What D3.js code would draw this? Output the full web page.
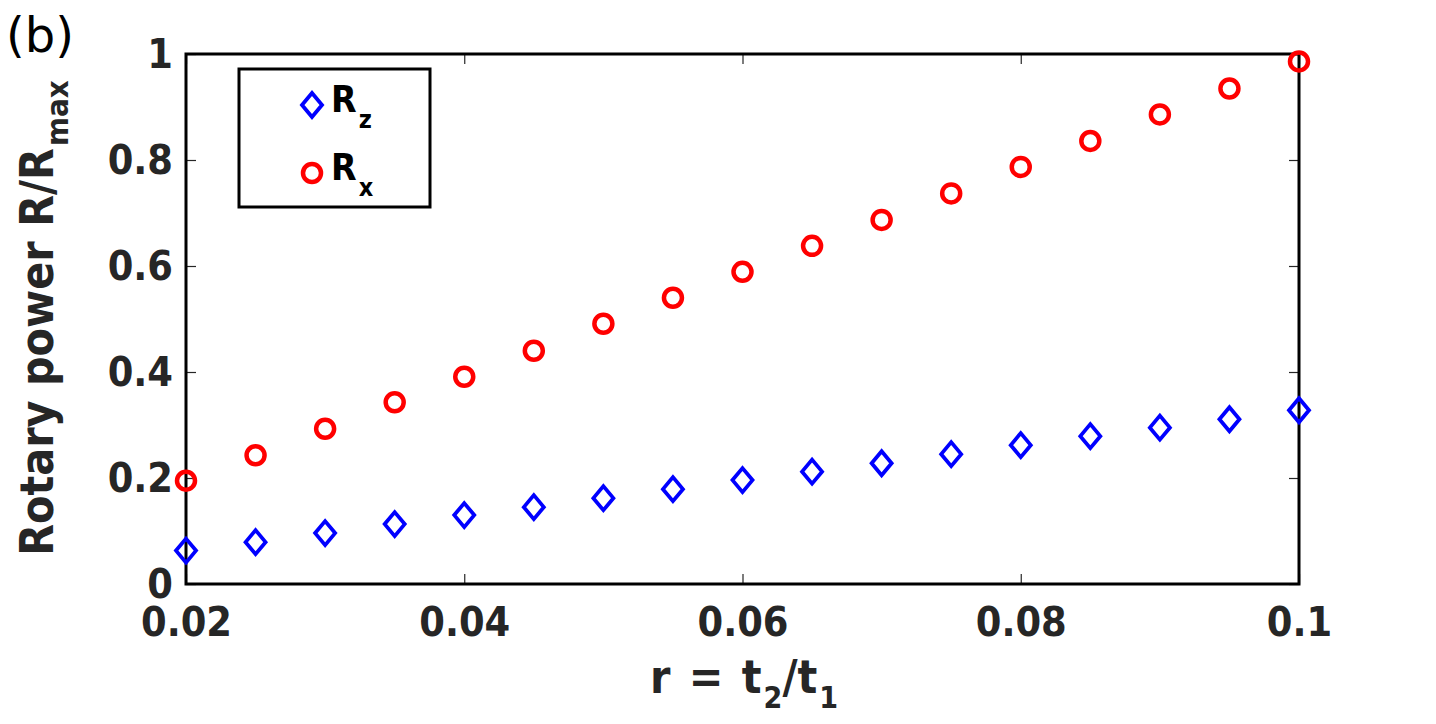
<!DOCTYPE html>
<meta charset="utf-8">
<html>
  <head>
    <script src="https://cdn.jsdelivr.net/npm/d3@7"></script>
    <style>
      body { margin: 0; background: #fff; }
      svg text { font-family: "DejaVu Sans Condensed", "DejaVu Sans", sans-serif; }
    </style>
  </head>
  <body>
    <div id="chart"></div>
    <script>
      // data
      const rValues = [0.02, 0.025, 0.03, 0.035, 0.04, 0.045, 0.05, 0.055, 0.06,
                       0.065, 0.07, 0.075, 0.08, 0.085, 0.09, 0.095, 0.1];
      const rzValues = [0.063, 0.079, 0.096, 0.113, 0.130, 0.145, 0.162, 0.179, 0.196,
                        0.212, 0.228, 0.245, 0.262, 0.279, 0.295, 0.311, 0.328];
      const rxValues = [0.195, 0.243, 0.293, 0.343, 0.391, 0.440, 0.491, 0.540, 0.589,
                        0.638, 0.687, 0.737, 0.787, 0.836, 0.886, 0.935, 0.986];
      const xTicks = [0.02, 0.04, 0.06, 0.08, 0.1];
      const yTicks = [0, 0.2, 0.4, 0.6, 0.8, 1];

      const width = 1436, height = 724;
      const margin = {top: 54, right: 137, bottom: 140, left: 186};

      const svg = d3.select('#chart').append('svg')
        .attr('width', width)
        .attr('height', height);

      const x = d3.scaleLinear().domain([0.02, 0.1]).range([margin.left, width - margin.right]);
      const y = d3.scaleLinear().domain([0, 1]).range([height - margin.bottom, margin.top]);

      const fmt = d => d3.format('')(+d.toFixed(2));
      const tickColor = '#262626';

      // axes with inward ticks
      const gx = svg.append('g')
        .attr('transform', `translate(0,${y(0)})`)
        .call(d3.axisBottom(x).tickValues(xTicks).tickSize(-10).tickPadding(24).tickFormat(fmt));
      const gy = svg.append('g')
        .attr('transform', `translate(${x(0.02)},0)`)
        .call(d3.axisLeft(y).tickValues(yTicks).tickSize(-10).tickPadding(13).tickFormat(fmt));
      svg.append('g')
        .attr('transform', `translate(0,${y(1)})`)
        .call(d3.axisTop(x).tickValues(xTicks).tickSize(-10).tickFormat(''));
      svg.append('g')
        .attr('transform', `translate(${x(0.1)},0)`)
        .call(d3.axisRight(y).tickValues(yTicks).tickSize(-10).tickFormat(''));

      svg.selectAll('.domain').remove();
      svg.selectAll('.tick line').attr('stroke', tickColor).attr('stroke-width', 1.2);
      svg.selectAll('.tick text')
        .attr('fill', tickColor)
        .style('font-size', '41px')
        .style('font-weight', 'bold');
      gx.selectAll('.tick text').attr('dy', '0.68em');
      gy.selectAll('.tick text').attr('dy', '0.34em');

      // frame
      svg.append('rect')
        .attr('x', x(0.02)).attr('y', y(1))
        .attr('width', x(0.1) - x(0.02))
        .attr('height', y(0) - y(1))
        .attr('fill', 'none')
        .attr('stroke', '#000')
        .attr('stroke-width', 3);

      const diamond = (cx, cy) => `M${cx},${cy - 12}L${cx + 10},${cy}L${cx},${cy + 12}L${cx - 10},${cy}Z`;

      // Rz diamonds
      svg.append('g').selectAll('path')
        .data(rValues.map((r, i) => [r, rzValues[i]]))
        .join('path')
        .attr('d', d => diamond(x(d[0]), y(d[1])))
        .attr('fill', 'none')
        .attr('stroke', '#0000ff')
        .attr('stroke-width', 3.8);

      // Rx circles
      svg.append('g').selectAll('circle')
        .data(rValues.map((r, i) => [r, rxValues[i]]))
        .join('circle')
        .attr('cx', d => x(d[0]))
        .attr('cy', d => y(d[1]))
        .attr('r', 9)
        .attr('fill', 'none')
        .attr('stroke', '#ff0000')
        .attr('stroke-width', 4.5);

      // legend
      const legend = svg.append('g');
      legend.append('rect')
        .attr('x', 239).attr('y', 69)
        .attr('width', 191).attr('height', 138)
        .attr('fill', '#fff')
        .attr('stroke', '#000')
        .attr('stroke-width', 3);
      legend.append('path')
        .attr('d', diamond(312, 105))
        .attr('fill', 'none').attr('stroke', '#0000ff').attr('stroke-width', 3.8);
      legend.append('circle')
        .attr('cx', 312).attr('cy', 173).attr('r', 9)
        .attr('fill', 'none').attr('stroke', '#ff0000').attr('stroke-width', 4.5);
      [['z', 112], ['x', 180]].forEach(([sub, by]) => {
        const t = legend.append('text')
          .attr('x', 331).attr('y', by)
          .attr('fill', '#000')
          .style('font-size', '37px')
          .style('font-weight', 'bold');
        t.append('tspan').text('R');
        t.append('tspan').attr('dx', 2).attr('dy', 16).style('font-size', '25px').text(sub);
      });

      // x label
      const xl = svg.append('text')
        .attr('x', 744).attr('y', 693)
        .attr('text-anchor', 'middle')
        .attr('fill', tickColor)
        .style('font-size', '46px')
        .style('font-weight', 'bold')
        .style('word-spacing', '4px');
      xl.append('tspan').text('r = t');
      xl.append('tspan').attr('dx', 2).attr('dy', 15).style('font-size', '30px').text('2');
      xl.append('tspan').attr('dy', -15).text('/t');
      xl.append('tspan').attr('dx', 2).attr('dy', 15).style('font-size', '30px').text('1');

      // y label
      const yl = svg.append('text')
        .attr('transform', 'translate(53,318) rotate(-90)')
        .attr('text-anchor', 'middle')
        .attr('fill', tickColor)
        .style('font-size', '46px')
        .style('font-weight', 'bold');
      yl.append('tspan').text('Rotary power R/R');
      yl.append('tspan').attr('dx', 2).attr('dy', 15).style('font-size', '31px').text('max');

      // panel tag
      svg.append('text')
        .attr('x', 6).attr('y', 52)
        .attr('fill', '#000')
        .style('font-family', '"DejaVu Sans", sans-serif')
        .style('font-size', '48px')
        .text('(b)');
    </script>
  </body>
</html>
